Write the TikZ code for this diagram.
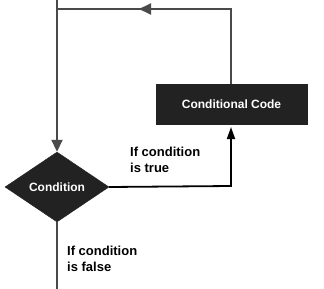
\documentclass[tikz,border=0pt]{standalone}
\usepackage{fontspec}
\setmainfont{Liberation Sans}
\usetikzlibrary{arrows.meta,shapes.geometric}
\definecolor{linegray}{HTML}{4A4A4A}
\definecolor{boxfill}{HTML}{222222}
\tikzset{
  flow/.style={draw=linegray,line width=1.8pt},
  tipgray/.style={-{Triangle[length=12pt,width=11pt,fill=linegray]}},
  tipblack/.style={-{Triangle[length=12pt,width=8pt,fill=black]}},
  codebox/.style={rectangle,fill=boxfill,draw=boxfill,minimum width=151pt,minimum height=40pt,inner sep=0pt,text=white,font=\bfseries\fontsize{12}{14}\selectfont},
  condnode/.style={diamond,fill=boxfill,draw=boxfill,minimum width=104pt,minimum height=70pt,inner sep=0pt,aspect=1.49,text=white,font=\bfseries\fontsize{12}{14}\selectfont},
  lbl/.style={align=left,anchor=north west,inner sep=0pt,font=\bfseries\fontsize{13}{16}\selectfont,text=black}
}
\begin{document}
\begin{tikzpicture}[x=1pt,y=-1pt]
\useasboundingbox (0,0) rectangle (324,289);
\node[codebox] (code) at (231.5,104) {Conditional Code};
\node[condnode] (cond) at (57,187) {Condition};
\coordinate (top) at (57,0);
\coordinate (tl) at (57,9);
\coordinate (tr) at (231,9);
\coordinate (tmid) at (139,9);
\coordinate (br) at (231,186);
\coordinate (bot) at (57,289);
\coordinate (codein) at (231,127);
% loop back
\draw[flow] (code.north -| tr) -- (tr) -- (tl);
\draw[flow,tipgray] (tr) -- (tmid);
\draw[flow] (top) -- (tl);
\draw[flow,tipgray] (tl) -- (cond.north);
% true branch
\draw[line width=1.8pt,draw=black,tipblack] (cond.east) -- (br) -- (codein);
% false branch
\draw[flow] (cond.south) -- (bot);
\node[lbl] (truelbl) at (130,147) {If condition\\is true};
\node[lbl] (falselbl) at (67,246) {If condition\\is false};
\end{tikzpicture}
\end{document}
